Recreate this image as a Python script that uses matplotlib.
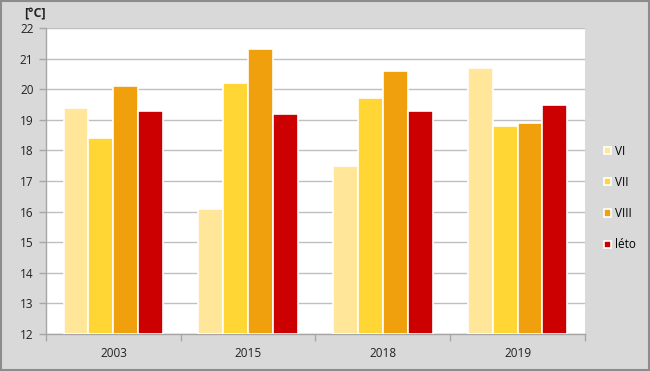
import matplotlib
matplotlib.use("Agg")
import matplotlib.pyplot as plt
import numpy as np
from matplotlib.patches import Rectangle

years = ["2003", "2015", "2018", "2019"]
series_names = ["VI", "VII", "VIII", "léto"]
vi = [19.4, 16.1, 17.5, 20.7]
vii = [18.4, 20.2, 19.7, 18.8]
viii = [20.1, 21.3, 20.6, 18.9]
leto = [19.3, 19.2, 19.3, 19.5]
colors = ["#ffe699", "#ffd633", "#f0a00c", "#cc0000"]
yticks = [12, 13, 14, 15, 16, 17, 18, 19, 20, 21, 22]

plt.rcParams['font.family'] = ['Open Sans', 'DejaVu Sans']

fig = plt.figure(figsize=(6.5, 3.71), dpi=100, facecolor="#d9d9d9")
fig.patches.append(Rectangle((0.0015, 0.0025), 0.997, 0.995, transform=fig.transFigure,
                             fill=False, edgecolor="#8c8c8c", linewidth=1.5))
ax = fig.add_axes([0.0708, 0.0997, 0.829, 0.8248])
ax.set_facecolor("white")

x = np.arange(len(years))
slot = 0.185
width = 0.185
data = [vi, vii, viii, leto]
for i, (vals, name, c) in enumerate(zip(data, series_names, colors)):
    ax.bar(x + (i - 1.5) * slot, np.array(vals) - 12, bottom=12, width=width,
           color=c, edgecolor="white", linewidth=1.2, label=name, zorder=3)

ax.set_ylim(12, 22)
ax.set_xlim(-0.5, len(years) - 0.5)
ax.set_yticks(yticks)
ax.set_yticklabels([str(t) for t in yticks], fontsize=8.5, color="#222222")
ax.yaxis.grid(True, color="#bfbfbf", linewidth=1, zorder=0)
ax.set_xticks(x)
ax.set_xticklabels(years, fontsize=8.5, color="#222222")
ax.tick_params(axis="x", length=0, pad=9)
ax.set_xticks(np.arange(-0.5, len(years), 1), minor=True)
ax.tick_params(axis="x", which="minor", length=5, color="#a6a6a6", width=1)
ax.tick_params(axis="y", length=5, color="#a6a6a6", width=1, pad=4)
for s in ["top", "right"]:
    ax.spines[s].set_visible(False)
for s in ["left", "bottom"]:
    ax.spines[s].set_color("#a6a6a6")
    ax.spines[s].set_linewidth(1)

fig.text(0.037, 0.962, "[°C]", fontsize=9, fontweight="bold", color="#222222",
         ha="left", va="center")

leg = fig.legend(loc="center left", bbox_to_anchor=(0.929, 1 - 198 / 371), frameon=False,
                 fontsize=8.5, handlelength=0.6, handleheight=0.6, labelspacing=1.55,
                 handletextpad=0.35, borderaxespad=0, borderpad=0)

fig.savefig("out.png", dpi=100, facecolor=fig.get_facecolor())
